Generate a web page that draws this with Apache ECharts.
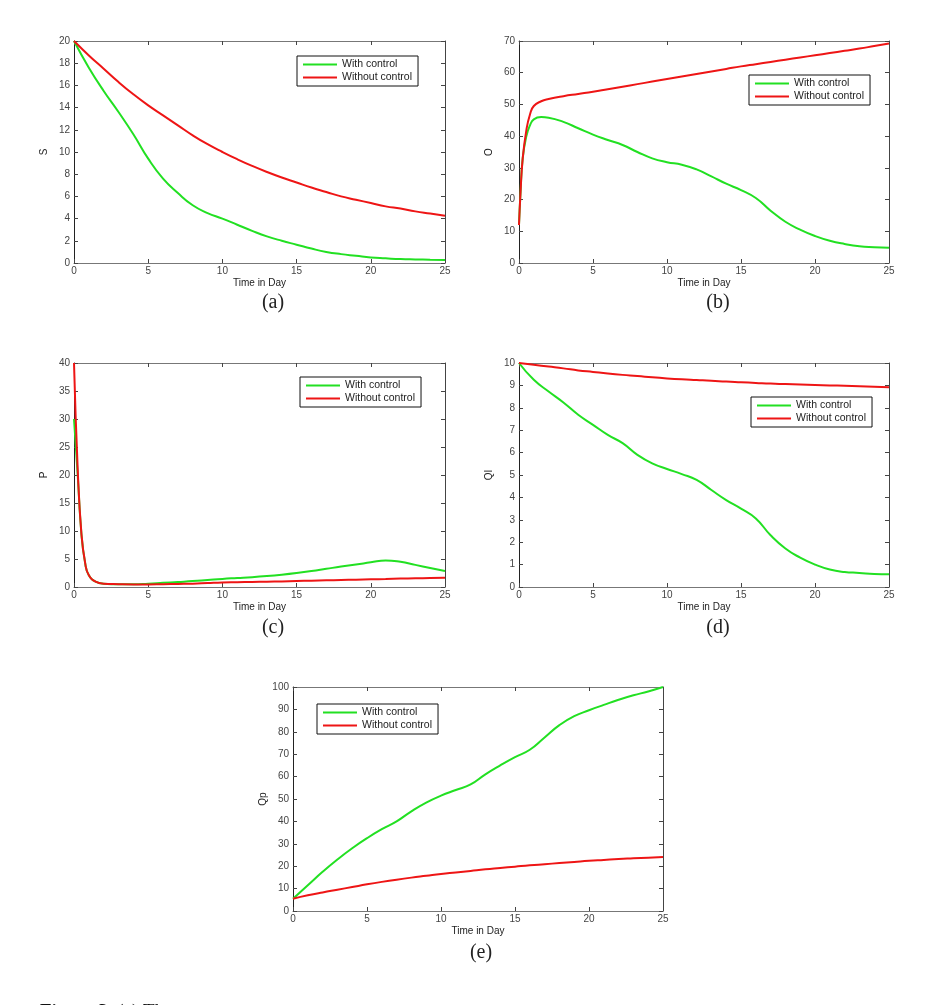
<!DOCTYPE html>
<html>
<head>
<meta charset="utf-8">
<script src="https://cdn.jsdelivr.net/npm/echarts@6/dist/echarts.min.js"></script>
<style>
  html, body { margin: 0; padding: 0; background: #fff; }
  #main { width: 931px; height: 1005px; }
</style>
</head>
<body>
<div id="main"></div>
<script>
// time points (days)
var tDays = [0, 1, 2, 3, 4, 5, 6, 7, 8, 9, 10, 11, 12, 13, 14, 15, 16, 17, 18, 19, 20, 21, 22, 23, 24, 25];
var tEarlyB = [0, 0.1, 0.25, 0.5, 0.75, 1, 1.5, 2, 3, 4, 5, 6, 7, 8, 9, 10, 11, 12, 13, 14, 15, 16, 17, 18, 19, 20, 21, 22, 23, 24, 25];
var tEarlyC = [0, 0.25, 0.5, 0.75, 1, 1.5, 2, 3, 4, 5, 6, 7, 8, 9, 10, 11, 12, 13, 14, 15, 16, 17, 18, 19, 20, 21, 22, 23, 24, 25];

// (a) S
var sWith = [20, 17.6, 15.5, 13.6, 11.6, 9.4, 7.6, 6.3, 5.2, 4.5, 4.0, 3.45, 2.9, 2.4, 2.0, 1.65, 1.3, 1.0, 0.8, 0.65, 0.5, 0.42, 0.35, 0.32, 0.3, 0.28];
var sWithout = [20, 18.7, 17.5, 16.3, 15.2, 14.2, 13.3, 12.4, 11.5, 10.7, 10.0, 9.35, 8.75, 8.2, 7.7, 7.25, 6.8, 6.4, 6.0, 5.7, 5.4, 5.1, 4.9, 4.65, 4.45, 4.25];

// (b) O
var oWith = [12, 22, 33, 40, 43.5, 45.3, 46, 45.8, 44.5, 42.5, 40.5, 38.8, 37.2, 35.0, 33.0, 31.8, 31.0, 29.5, 27.3, 25.0, 23.0, 20.5, 16.5, 13.0, 10.5, 8.5, 7.0, 6.0, 5.3, 5.0, 4.8];
var oWithout = [12, 22, 33, 42, 47, 49.5, 51, 51.7, 52.6, 53.3, 54.0, 54.8, 55.6, 56.4, 57.2, 58.0, 58.8, 59.6, 60.4, 61.2, 62.0, 62.7, 63.4, 64.1, 64.8, 65.5, 66.2, 66.9, 67.6, 68.4, 69.2];

// (c) P
var pWith = [30, 20, 9.5, 4.3, 2.1, 0.9, 0.6, 0.5, 0.5, 0.6, 0.75, 0.9, 1.05, 1.25, 1.45, 1.6, 1.75, 1.95, 2.2, 2.5, 2.85, 3.25, 3.65, 4.0, 4.4, 4.75, 4.5, 3.95, 3.4, 2.85];
var pWithout = [40, 21, 9.5, 4.3, 2.1, 0.9, 0.6, 0.5, 0.45, 0.45, 0.5, 0.55, 0.6, 0.7, 0.8, 0.85, 0.9, 0.95, 1.0, 1.07, 1.13, 1.2, 1.25, 1.3, 1.37, 1.43, 1.5, 1.55, 1.6, 1.67];

// (d) QI
var qiWith = [10, 9.25, 8.73, 8.24, 7.69, 7.24, 6.79, 6.42, 5.9, 5.52, 5.27, 5.04, 4.78, 4.33, 3.88, 3.5, 3.06, 2.31, 1.72, 1.31, 1.0, 0.78, 0.67, 0.63, 0.58, 0.57];
var qiWithout = [10, 9.92, 9.84, 9.76, 9.67, 9.6, 9.53, 9.47, 9.42, 9.36, 9.31, 9.27, 9.24, 9.21, 9.17, 9.14, 9.11, 9.08, 9.06, 9.04, 9.02, 9.0, 8.98, 8.96, 8.94, 8.92];

// (e) Qp
var qpWith = [5.5, 11.5, 17.5, 23.0, 28.0, 32.5, 36.5, 40.0, 44.5, 48.4, 51.5, 54.0, 56.5, 61.0, 65.0, 68.7, 72.0, 77.5, 83.0, 87.0, 89.6, 92.0, 94.3, 96.3, 98.0, 100];
var qpWithout = [5.5, 7.0, 8.3, 9.5, 10.7, 11.9, 13.0, 14.0, 14.9, 15.7, 16.5, 17.2, 17.9, 18.6, 19.2, 19.8, 20.4, 20.9, 21.4, 21.9, 22.4, 22.8, 23.2, 23.5, 23.8, 24.1];

var seriesNames = ['With control', 'Without control'];
var panelLetters = ['(a)', '(b)', '(c)', '(d)', '(e)'];

var GREEN = '#22e022';
var RED = '#ee1515';
var sans = 'Liberation Sans, Arial, sans-serif';
var serif = 'Liberation Serif, Times New Roman, serif';

var panels = [
  { t: tDays, w: sWith, wo: sWithout, yName: 'S', yMax: 20, yStep: 2,
    grid: { left: 74, top: 41, width: 371, height: 222 }, legend: { left: 297, top: 56 }, cap: [273, 303] },
  { t: tEarlyB, w: oWith, wo: oWithout, yName: 'O', yMax: 70, yStep: 10,
    grid: { left: 519, top: 41, width: 370, height: 222 }, legend: { left: 749, top: 75 }, cap: [718, 303] },
  { t: tEarlyC, w: pWith, wo: pWithout, yName: 'P', yMax: 40, yStep: 5,
    grid: { left: 74, top: 363, width: 371, height: 224 }, legend: { left: 300, top: 377 }, cap: [273, 628] },
  { t: tDays, w: qiWith, wo: qiWithout, yName: 'QI', yMax: 10, yStep: 1,
    grid: { left: 519, top: 363, width: 370, height: 224 }, legend: { left: 751, top: 397 }, cap: [718, 628] },
  { t: tDays, w: qpWith, wo: qpWithout, yName: 'Qp', yMax: 100, yStep: 10,
    grid: { left: 293, top: 687, width: 370, height: 224 }, legend: { left: 317, top: 704 }, cap: [481, 953] }
];

function pairs(t, v) {
  var out = [];
  for (var i = 0; i < t.length; i++) out.push([t[i], v[i]]);
  return out;
}

var grids = [], xAxes = [], yAxes = [], series = [], legends = [], graphics = [];

panels.forEach(function (p, i) {
  grids.push(p.grid);
  var tick = { show: true, inside: true, length: 4, lineStyle: { color: '#444' } };
  // bottom x axis
  xAxes.push({
    gridIndex: i, type: 'value', min: 0, max: 25, interval: 5, position: 'bottom',
    name: 'Time in Day', nameLocation: 'middle', nameGap: 15,
    nameTextStyle: { fontFamily: sans, fontSize: 10, color: '#222' },
    axisLine: { show: true, onZero: false, lineStyle: { color: '#777', width: 1 } },
    axisTick: tick,
    axisLabel: { fontFamily: sans, fontSize: 10, color: '#444', margin: 3 },
    splitLine: { show: false }
  });
  // top x axis (box)
  xAxes.push({
    gridIndex: i, type: 'value', min: 0, max: 25, interval: 5, position: 'top',
    axisLine: { show: true, onZero: false, lineStyle: { color: '#777', width: 1 } },
    axisTick: tick, axisLabel: { show: false }, splitLine: { show: false }
  });
  // left y axis
  yAxes.push({
    gridIndex: i, type: 'value', min: 0, max: p.yMax, interval: p.yStep, position: 'left',
    name: p.yName, nameLocation: 'middle', nameGap: 25,
    nameTextStyle: { fontFamily: sans, fontSize: 10, color: '#222' },
    axisLine: { show: true, onZero: false, lineStyle: { color: '#222', width: 1 } },
    axisTick: tick,
    axisLabel: { fontFamily: sans, fontSize: 10, color: '#444', margin: 4 },
    splitLine: { show: false }
  });
  // right y axis (box)
  yAxes.push({
    gridIndex: i, type: 'value', min: 0, max: p.yMax, interval: p.yStep, position: 'right',
    axisLine: { show: true, onZero: false, lineStyle: { color: '#444', width: 1 } },
    axisTick: tick, axisLabel: { show: false }, splitLine: { show: false }
  });

  series.push({
    name: seriesNames[0], type: 'line', xAxisIndex: 2 * i, yAxisIndex: 2 * i,
    data: pairs(p.t, p.w), showSymbol: false, symbol: 'none',
    smooth: 0.5, color: GREEN,
    lineStyle: { color: GREEN, width: 2 }, silent: true
  });
  series.push({
    name: seriesNames[1], type: 'line', xAxisIndex: 2 * i, yAxisIndex: 2 * i,
    data: pairs(p.t, p.wo), showSymbol: false, symbol: 'none',
    smooth: 0.5, color: RED,
    lineStyle: { color: RED, width: 2 }, silent: true
  });

  legends.push({
    data: seriesNames, orient: 'vertical', left: p.legend.left, top: p.legend.top,
    icon: 'rect', itemWidth: 34, itemHeight: 2, itemGap: 2,
    padding: [3, 6, 3, 6], borderColor: '#111', borderWidth: 1,
    selectedMode: false,
    textStyle: { fontFamily: sans, fontSize: 10.5, color: '#222' }
  });

  graphics.push({
    type: 'text', x: p.cap[0], y: p.cap[1],
    style: { text: panelLetters[i], font: '20px ' + serif, fill: '#222', textAlign: 'center', textVerticalAlign: 'middle' }
  });
});

// caption at the bottom, cut off by the page edge
graphics.push({
  type: 'text', left: 40, top: 1003,
  style: {
    text: '{b|Figure 3.} (a) The',
    font: '19px ' + serif, fill: '#111',
    rich: { b: { fontWeight: 'bold', fontFamily: serif, fontSize: 19 } }
  }
});

var chart = echarts.init(document.getElementById('main'));
chart.setOption({
  animation: false,
  backgroundColor: '#fff',
  grid: grids,
  xAxis: xAxes,
  yAxis: yAxes,
  legend: legends,
  series: series,
  graphic: graphics
});
</script>
</body>
</html>
